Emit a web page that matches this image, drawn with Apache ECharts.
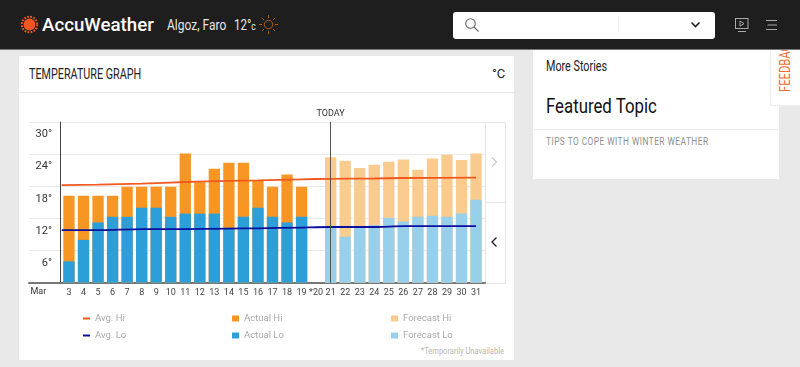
<!DOCTYPE html>
<html>
<head>
<meta charset="utf-8">
<title>Temperature Graph</title>
<script src="https://cdn.jsdelivr.net/npm/echarts@6/dist/echarts.min.js"></script>
<style>
  html, body { margin: 0; padding: 0; width: 800px; height: 367px; overflow: hidden; background: #e9e9e9; font-family: Roboto, sans-serif; }
  .abs { position: absolute; white-space: nowrap; }
  .narrow { transform-origin: 0 50%; transform: scaleX(.77); }
  #header { left: 0; top: 0; width: 800px; height: 49px; background: #1e1e1e; border-bottom: 1px solid #777; }
  #card { left: 19px; top: 56px; width: 495px; height: 304px; background: #fff; }
  #cardline { left: 19px; top: 92px; width: 495px; height: 1px; background: #e8e8e8; }
  #side { left: 533px; top: 50px; width: 246px; height: 129px; background: #fff; }
  #sideline { left: 533px; top: 129px; width: 246px; height: 1px; background: #eee; }
  #feedback { left: 770px; top: 50px; width: 29px; height: 55px; background: #fff; border-left: 1px solid #eee; border-bottom: 1px solid #eee; overflow: hidden; }
  #feedback span { position: absolute; left: 14px; top: 35px; transform-origin: 0 50%; transform: rotate(-90deg) scaleX(.8); color: #f26a35; font-size: 14px; line-height: 14px; white-space: nowrap; }
  #search { left: 453px; top: 12px; width: 262px; height: 27px; background: #fff; border-radius: 3px; }
  #panel { left: 485px; top: 122px; width: 19px; height: 160px; border: 1px solid #e6e6e6; }
  #panelmid { left: 485px; top: 202px; width: 20px; height: 1px; background: #e6e6e6; }
  #chart { left: 0; top: 0; width: 800px; height: 367px; }
</style>
</head>
<body>
<div class="abs" id="header"></div>
<svg class="abs" style="left:20px;top:15px" width="19" height="19" viewBox="0 0 24 24">
  <circle cx="12" cy="12" r="7.5" fill="#f0581f"/>
  <circle cx="12" cy="12" r="9.8" fill="none" stroke="#f0581f" stroke-width="2.6" stroke-dasharray="2.2 1.7"/>
</svg>
<div class="abs" style="left:42px;top:12px;color:#fff;font:500 18.7px/26px Roboto,sans-serif">AccuWeather</div>
<div class="abs" style="left:167px;top:16px;color:#e6e6e6;font-size:15px;line-height:18px;transform-origin:0 50%;transform:scaleX(.8)">Algoz, Faro</div>
<div class="abs narrow" style="left:234px;top:16px;color:#e6e6e6;font-size:15px;line-height:18px">12°<span style="font-size:11px">c</span></div>
<svg class="abs" style="left:259px;top:15px" width="19" height="19" viewBox="0 0 21 21" stroke="#b9650f" fill="none" stroke-width="1">
  <circle cx="10.5" cy="10.5" r="4.6"/>
  <path d="M10.5 0v3.4M10.5 17.6v3.4M0 10.5h3.4M17.6 10.5h3.4M3.2 3.2l2.3 2.3M15.5 15.5l2.3 2.3M3.2 17.8l2.3-2.3M15.5 5.5l2.3-2.3"/>
</svg>
<div class="abs" id="search"></div>
<svg class="abs" style="left:464px;top:17px" width="16" height="16" viewBox="0 0 16 16" stroke="#666" fill="none" stroke-width="1.1">
  <circle cx="6.5" cy="6.5" r="4.8"/><path d="M10 10l4.5 4.5"/>
</svg>
<div class="abs" style="left:618px;top:17px;width:1px;height:16px;background:#f2f2f2"></div>
<svg class="abs" style="left:690px;top:21px" width="11" height="8" viewBox="0 0 11 8" stroke="#222" fill="none" stroke-width="1.6">
  <path d="M1.5 1.5l4 4 4-4"/>
</svg>
<svg class="abs" style="left:734px;top:17px" width="16" height="16" viewBox="0 0 16 16" stroke="#aaa" fill="none" stroke-width="1">
  <rect x="1.5" y="1.5" width="12.5" height="10"/><path d="M6 4l4 2.6-4 2.6zM4 14.5h8"/>
</svg>
<svg class="abs" style="left:765px;top:19px" width="13" height="12" viewBox="0 0 13 12" stroke="#aaa" fill="none" stroke-width="1">
  <path d="M1 1.5h11M2.5 6h9.5M1 10.5h11"/>
</svg>

<div class="abs" id="card"></div>
<div class="abs" id="cardline"></div>
<div class="abs narrow" style="left:29px;top:66px;color:#222;font-size:14px;line-height:16px">TEMPERATURE GRAPH</div>
<div class="abs" style="left:492px;top:66px;color:#222;font-size:13px;line-height:16px">°C</div>
<div class="abs" style="left:421px;top:345px;color:#b5b5b5;font-size:9.5px;line-height:12px;transform-origin:0 50%;transform:scaleX(.79)">*Temporarily Unavailable</div>

<div class="abs" id="side"></div>
<div class="abs" id="sideline"></div>
<div class="abs narrow" style="left:546px;top:58px;color:#222;font-size:14px;line-height:17px">More Stories</div>
<div class="abs" style="left:546px;top:94px;color:#111;font-size:21px;line-height:24px;transform-origin:0 50%;transform:scaleX(.8)">Featured Topic</div>
<div class="abs" style="left:546px;top:135px;color:#8e8e8e;font-size:10.5px;line-height:13px;letter-spacing:.6px;transform-origin:0 50%;transform:scaleX(.79)">TIPS TO COPE WITH WINTER WEATHER</div>
<div class="abs" id="feedback"><span>FEEDBACK</span></div>

<div class="abs" id="panel"></div>
<div class="abs" id="panelmid"></div>
<svg class="abs" style="left:490px;top:156px" width="9" height="12" viewBox="0 0 9 12" stroke="#c8c8c8" fill="none" stroke-width="1.1">
  <path d="M2 1.5l4.5 4.5-4.5 4.5"/>
</svg>
<svg class="abs" style="left:490px;top:236px" width="9" height="12" viewBox="0 0 9 12" stroke="#222" fill="none" stroke-width="1.4">
  <path d="M6.5 1.5L2 6l4.5 4.5"/>
</svg>

<div class="abs" id="chart"></div>

<script>
const days = ['3','4','5','6','7','8','9','10','11','12','13','14','15','16','17','18','19','*20','21','22','23','24','25','26','27','28','29','30','31']
const actualHi = [16.25,16.25,16.25,16.25,17.9,17.9,17.9,17.9,24.1,18.75,21.25,22.4,22.4,19,17.9,20.2,17.9,null,null,null,null,null,null,null,null,null,null,null,null]
const actualLo = [4,8,11.25,12.3,12.3,14,14,12.3,12.9,12.9,12.9,10.25,12.3,14,12.3,11.25,12.3,null,null,null,null,null,null,null,null,null,null,null,null]
const forecastHi = [null,null,null,null,null,null,null,null,null,null,null,null,null,null,null,null,null,null,23.4,22.75,21.4,22,22.6,23,21.1,23.2,23.9,22.9,24.1]
const forecastLo = [null,null,null,null,null,null,null,null,null,null,null,null,null,null,null,null,null,null,10.6,8.6,10.5,10.75,12.1,11.4,12.3,12.5,12.3,12.9,15.5]
const avgDays = [2.5,5,8,11,14,16,19,21,24,26,31]
const avgHi = [18.2,18.3,18.5,18.8,19,19.1,19.3,19.4,19.45,19.55,19.6]
const avgLo = [9.8,9.8,10,10,10.1,10.15,10.3,10.4,10.4,10.55,10.55]
const yTicks = [0,6,12,18,24,30]
const todayLabel = '21'

const fontName = 'Roboto, sans-serif'
const myChart = echarts.init(document.getElementById('chart'))

function pairs (xs, ys) {
  return xs.map((x, i) => [x, ys[i]])
}

function barSeries (name, data, color) {
  return {
    name: name,
    type: 'bar',
    xAxisIndex: 1,
    yAxisIndex: 1,
    data: data,
    barWidth: 11.3,
    barGap: '-100%',
    itemStyle: { color: color },
    emphasis: { disabled: true },
    silent: true
  }
}

function lineSeries (name, ys, color) {
  return {
    name: name,
    type: 'line',
    xAxisIndex: 2,
    yAxisIndex: 1,
    data: pairs(avgDays, ys),
    smooth: 0.2,
    symbol: 'none',
    lineStyle: { color: color, width: 1.8 },
    itemStyle: { color: color },
    z: 5,
    silent: true
  }
}

const hiSeries = barSeries('Forecast Hi', forecastHi, '#f9cb8e')
hiSeries.markLine = {
  silent: true,
  symbol: 'none',
  animation: false,
  z: 6,
  lineStyle: { color: '#555', width: 1, type: 'solid' },
  label: { show: true, position: 'end', formatter: 'TODAY', color: '#333', fontSize: 9, fontFamily: fontName, distance: 4 },
  data: [{ xAxis: todayLabel }]
}

function legendBlock (left, names, itemHeight) {
  return {
    left: left,
    top: 313,
    orient: 'vertical',
    icon: 'rect',
    data: names,
    itemWidth: 7,
    itemHeight: itemHeight,
    itemGap: 6,
    selectedMode: false,
    padding: 0,
    textStyle: { color: '#aaa', fontSize: 9.5, fontFamily: fontName, lineHeight: 11, height: 11 }
  }
}

myChart.setOption({
  animation: false,
  textStyle: { fontFamily: fontName },
  grid: [
    { left: 29, right: 315, top: 122, bottom: 84.3 },
    { left: 61.7, right: 316.7, top: 122, bottom: 84.3 }
  ],
  legend: [
    legendBlock(83, ['Avg. Hi', 'Avg. Lo'], 2),
    legendBlock(232, ['Actual Hi', 'Actual Lo'], 6),
    legendBlock(391, ['Forecast Hi', 'Forecast Lo'], 6)
  ],
  xAxis: [
    {
      gridIndex: 0,
      type: 'value',
      min: 0,
      max: 1,
      axisLine: { show: true, onZero: false, lineStyle: { color: '#777', width: 2 } },
      axisTick: { show: false },
      axisLabel: { show: false },
      splitLine: { show: false }
    },
    {
      gridIndex: 1,
      type: 'category',
      data: days,
      name: 'Mar',
      nameLocation: 'start',
      nameGap: 15.5,
      nameTextStyle: { color: '#333', fontSize: 9, verticalAlign: 'top', padding: [5, 0, 0, 0] },
      axisLine: { show: false },
      axisTick: { show: false },
      axisLabel: { color: '#444', fontSize: 9, margin: 6, interval: 0 }
    },
    {
      gridIndex: 1,
      type: 'value',
      min: 2.5,
      max: 31.5,
      show: false
    }
  ],
  yAxis: [
    {
      gridIndex: 0,
      type: 'value',
      min: 0,
      max: 30,
      interval: 6,
      axisLine: { show: false },
      axisTick: { show: false },
      axisLabel: {
        inside: true,
        margin: 23,
        align: 'right',
        verticalAlign: 'top',
        padding: [7, 0, 0, 0],
        color: '#333',
        fontSize: 11,
        showMinLabel: false,
        formatter: v => (yTicks.includes(v) && v > 0 ? v + '°' : '')
      },
      splitLine: { show: true, lineStyle: { color: '#eaeaea', width: 1 } }
    },
    {
      gridIndex: 1,
      type: 'value',
      min: 0,
      max: 30,
      interval: 6,
      offset: 1,
      axisLine: { show: true, onZero: false, lineStyle: { color: '#444', width: 1 } },
      axisTick: { show: false },
      axisLabel: { show: false },
      splitLine: { show: false }
    }
  ],
  series: [
    barSeries('Actual Hi', actualHi, '#f79622'),
    barSeries('Actual Lo', actualLo, '#2d9fd8'),
    hiSeries,
    barSeries('Forecast Lo', forecastLo, '#98cfea'),
    lineSeries('Avg. Hi', avgHi, '#f1591f'),
    lineSeries('Avg. Lo', avgLo, '#0a0f9e')
  ]
})
</script>
</body>
</html>
